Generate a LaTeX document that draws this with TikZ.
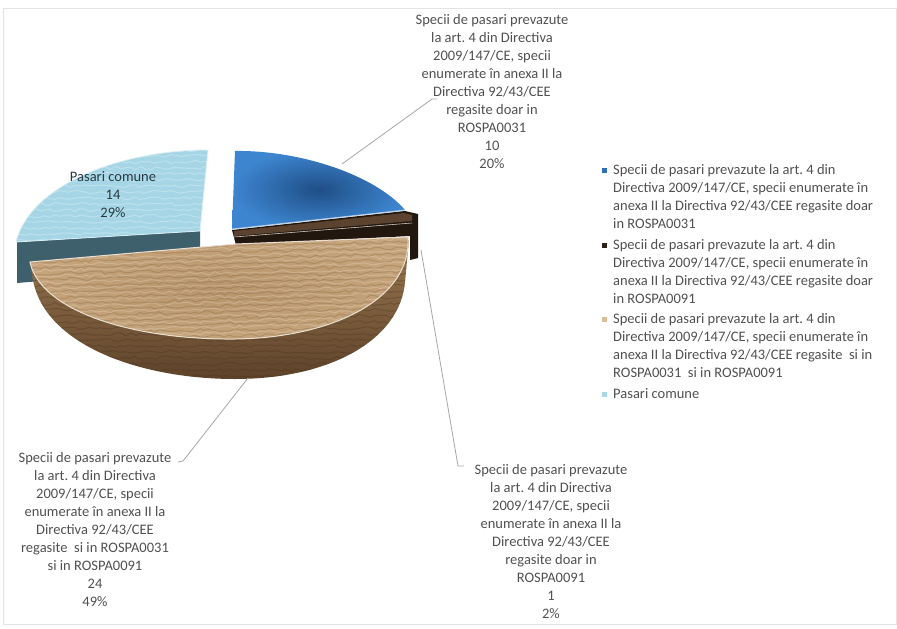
\documentclass[tikz,border=0pt]{standalone}
\usepackage{fontspec}
\setmainfont{Carlito}
\usetikzlibrary{decorations.pathmorphing}
\definecolor{txt}{HTML}{505050}
\definecolor{leadc}{HTML}{A6A6A6}
\definecolor{frame}{HTML}{E3E3E3}
\definecolor{lbtop}{HTML}{A6D6E6}
\definecolor{lbside}{HTML}{3E606C}
\definecolor{blueO}{HTML}{3D85CF}
\definecolor{blueC}{HTML}{1F4E86}
\definecolor{brdark}{HTML}{22170E}
\definecolor{brband}{HTML}{5B4330}
\definecolor{tantop}{HTML}{C6A47B}
\definecolor{tantopC}{HTML}{B8956B}
\definecolor{tansideT}{HTML}{9A7850}
\definecolor{tansideB}{HTML}{5E432A}
\definecolor{lgblue}{HTML}{2E6FB8}
\definecolor{lgbrown}{HTML}{2A1F14}
\definecolor{lgtan}{HTML}{D8BE98}
\definecolor{lglb}{HTML}{A8D8E8}
\begin{document}
\frenchspacing
\begin{tikzpicture}[x=1pt,y=-1pt,
  font=\fontsize{14.5}{18}\selectfont,
  lbl/.style={align=center, inner sep=0pt, text=txt, anchor=north},
  lgtext/.style={align=left, inner sep=0pt, text=txt, anchor=north west},
  lgmark/.style={minimum size=5pt, inner sep=0pt},
  lead/.style={draw=leadc, line width=0.8pt},
  grain/.style={decorate, decoration={random steps, segment length=5pt, amplitude=1.6pt}, line width=1pt}]
\useasboundingbox (0,0) rectangle (897,629);
\draw[frame, line width=1pt] (3,8) rectangle (896,624);
\pgfmathsetseed{7}

% ---- light blue slice (Pasari comune)
\fill[lbside] (17,242) -- (200,231) -- (200,268) -- (17,283) -- cycle;
\path[fill=lbtop] (200,231) -- (208,150) .. controls (120,150) and (30,185) .. (16,242) -- cycle;
\begin{scope}
  \clip (200,231) -- (208,150) .. controls (120,150) and (30,185) .. (16,242) -- cycle;
  \foreach \yy in {150,156,...,240} \draw[grain, draw=white, opacity=0.25] (10,\yy) -- (215,\yy);
\end{scope}
\draw[white!60!lbtop, line width=0.8pt] (200,231) -- (208,150) .. controls (120,150) and (30,185) .. (16,242) -- cycle;

% ---- blue slice
\shade[inner color=blueC, outer color=blueO]
  (232,229) -- (235,151) .. controls (300,150) and (375,175) .. (405,210) -- cycle;
\draw[white!60!blueO, line width=0.8pt] (232,229) -- (405,210);

% ---- dark brown slice (2%)
\fill[brdark] (232,230) -- (405,211) -- (418,214) -- (418,258) -- (410,260) -- (410,236) -- (236,245) -- cycle;
\fill[brband] (234,231) -- (404,213) -- (412,215) -- (412,221) -- (234,236) -- cycle;
\draw[white!70!brband, line width=0.6pt] (234,237) -- (412,223);

% ---- tan slice (49%)
\shade[top color=tansideT, bottom color=tansideB]
  (30,262) -- (33,280) .. controls (45,345) and (140,379) .. (235,379)
  .. controls (330,379) and (400,340) .. (405,282) -- (409,240) -- cycle;
\begin{scope}
  \clip (30,262) -- (33,280) .. controls (45,345) and (140,379) .. (235,379)
  .. controls (330,379) and (400,340) .. (405,282) -- (409,240) -- cycle;
  \foreach \yy in {262,268,...,382} \draw[grain, draw=tansideB!70!black, opacity=0.3] (25,\yy) -- (415,\yy);
\end{scope}
\shade[inner color=tantopC, outer color=tantop]
  (30,262) -- (236,244) -- (408,237) .. controls (412,300) and (330,338) .. (235,339)
  .. controls (130,340) and (40,310) .. cycle;
\begin{scope}
  \clip (30,262) -- (236,244) -- (408,237) .. controls (412,300) and (330,338) .. (235,339)
  .. controls (130,340) and (40,310) .. cycle;
  \foreach \yy in {238,244,...,342} \draw[grain, draw=tansideT!80!black, opacity=0.3] (25,\yy) -- (415,\yy-8);
  \foreach \yy in {241,247,...,342} \draw[grain, draw=white, opacity=0.2] (25,\yy) -- (415,\yy-8);
\end{scope}
\draw[white!65!tantop, line width=1pt]
  (30,262) -- (236,244) -- (408,237) .. controls (412,300) and (330,338) .. (235,339)
  .. controls (130,340) and (40,310) .. cycle;

% ---- anchor points on slices
\coordinate (pBlue) at (342,164);
\coordinate (pBrown) at (421,250);
\coordinate (pTan) at (248,378);
\coordinate (kBlue) at (432,99);
\coordinate (kBrown) at (458,466);
\coordinate (kTan) at (183,461);

% ---- data labels
\node[lbl, text=lbside!60!black] (lLB) at (113,171) {Pasari comune\\14\\29\%};
\node[lbl] (lBlue) at (492,14) {Specii de pasari prevazute\\la art. 4 din Directiva\\2009/147/CE, specii\\enumerate în anexa II la\\Directiva 92/43/CEE\\regasite doar in\\ROSPA0031\\10\\20\%};
\node[lbl] (lTan) at (95,452) {Specii de pasari prevazute\\la art. 4 din Directiva\\2009/147/CE, specii\\enumerate în anexa II la\\Directiva 92/43/CEE\\regasite\ \ si in ROSPA0031\\si in ROSPA0091\\24\\49\%};
\node[lbl] (lBrown) at (551,464) {Specii de pasari prevazute\\la art. 4 din Directiva\\2009/147/CE, specii\\enumerate în anexa II la\\Directiva 92/43/CEE\\regasite doar in\\ROSPA0091\\1\\2\%};

% ---- leader lines
\draw[lead] (pBlue) -- (kBlue) -- ++(5,0);
\draw[lead] (pBrown) -- (kBrown) -- ++(6,0);
\draw[lead] (pTan) -- (kTan) -- ++(-5,1);

% ---- legend
\node[lgmark, fill=lgblue] (m1) at (604,170) {};
\node[lgmark, fill=lgbrown] (m2) at (604,245) {};
\node[lgmark, fill=lgtan] (m3) at (604,319) {};
\node[lgmark, fill=lglb] (m4) at (604,394) {};
\node[lgtext] (t1) at (613,164) {Specii de pasari prevazute la art. 4 din\\Directiva 2009/147/CE, specii enumerate în\\anexa II la Directiva 92/43/CEE regasite doar\\in ROSPA0031};
\node[lgtext] (t2) at (613,239) {Specii de pasari prevazute la art. 4 din\\Directiva 2009/147/CE, specii enumerate în\\anexa II la Directiva 92/43/CEE regasite doar\\in ROSPA0091};
\node[lgtext] (t3) at (613,313) {Specii de pasari prevazute la art. 4 din\\Directiva 2009/147/CE, specii enumerate în\\anexa II la Directiva 92/43/CEE regasite\ \ si in\\ROSPA0031\ \ si in ROSPA0091};
\node[lgtext] (t4) at (613,388) {Pasari comune};
\end{tikzpicture}
\end{document}
